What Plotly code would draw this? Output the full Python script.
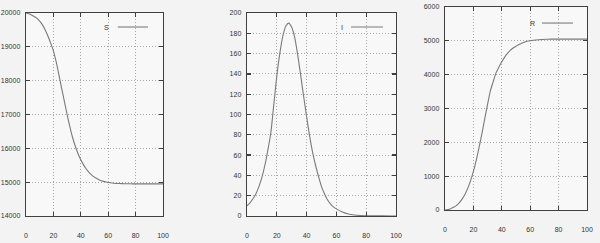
import plotly.graph_objects as go

# time grid (days)
t = [0, 2, 4, 6, 8, 10, 12, 14, 16, 18, 20, 22, 24, 26, 28, 30, 32, 34, 36, 38,
     40, 42, 44, 46, 48, 50, 52, 54, 56, 58, 60, 64, 68, 72, 76, 80, 90, 100]

S_vals = [20000, 19975, 19940, 19895, 19840, 19760, 19650, 19500, 19320, 19110,
          18880, 18560, 18180, 17780, 17390, 17000, 16640, 16320, 16060, 15840,
          15660, 15510, 15390, 15290, 15210, 15150, 15100, 15060, 15030, 15010,
          14990, 14970, 14960, 14955, 14952, 14950, 14950, 14950]

I_vals = [10, 13, 17, 22, 29, 38, 50, 65, 82, 110,
          138, 160, 177, 187, 190, 186, 176, 159, 139, 118,
          98, 79, 63, 50, 39, 29, 22, 16, 12, 9,
          7, 4, 2, 1, 0.5, 0.3, 0.1, 0]

R_vals = [0, 15, 40, 80, 130, 210, 320, 460, 640, 870,
          1140, 1470, 1850, 2260, 2700, 3130, 3530, 3800, 4060, 4230,
          4380, 4520, 4630, 4720, 4790, 4840, 4890, 4930, 4960, 4985,
          5000, 5025, 5040, 5048, 5050, 5050, 5050, 5050]

names = ["S", "I", "R"]
series = [S_vals, I_vals, R_vals]
y_ranges = [[14000, 20000], [0, 200], [0, 6000]]
y_dticks = [1000, 20, 1000]
x_ticks = [0, 20, 40, 60, 80, 100]

W, H = 600, 243
# panel boxes in pixels: (left, right, top, bottom)
boxes = [(26, 163, 13, 216), (247, 396, 13, 216), (445, 587, 7, 210)]
legend_pos = [(0.59, 0.67, 0.89, 0.931), (0.638, 0.698, 0.913, 0.931), (0.613, 0.683, 0.901, 0.921)]

fig = go.Figure()
line_col = "#7a7a7a"
frame_col = "#404040"
font = dict(family="Liberation Sans, Arial, sans-serif", size=7, color="#333333")

for k in range(3):
    l, r, tp, b = boxes[k]
    sfx = "" if k == 0 else str(k + 1)
    xa = "xaxis" + sfx
    ya = "yaxis" + sfx
    fig.add_trace(go.Scatter(x=t, y=series[k], mode="lines", name=names[k],
                             line=dict(color=line_col, width=1.1, shape="spline", smoothing=0.6),
                             xaxis="x" + sfx, yaxis="y" + sfx, showlegend=False,
                             hoverinfo="skip"))
    common = dict(showline=True, linecolor=frame_col, linewidth=1.3, mirror="allticks",
                  ticks="inside", ticklen=4, tickcolor=frame_col, tickwidth=1.3,
                  showgrid=True, gridcolor="#a8a8a8", griddash="1px,2px", gridwidth=1,
                  zeroline=False, tickfont=font, tickformat="d", automargin=False)
    fig.layout[xa] = dict(domain=[l / W, r / W], range=[0, 100], tickvals=x_ticks,
                          anchor="y" + sfx, ticklabelstandoff=12, **common)
    fig.layout[ya] = dict(domain=[(H - b) / H, (H - tp) / H], range=y_ranges[k],
                          dtick=y_dticks[k], anchor="x" + sfx, ticklabelstandoff=3, **common)
    tx, x0, x1, ly = legend_pos[k]
    fig.add_annotation(text=names[k], x=tx, y=ly, xref="x" + sfx + " domain",
                       yref="y" + sfx + " domain", showarrow=False, font=font,
                       xanchor="center", yanchor="middle")
    fig.add_shape(type="line", x0=x0, x1=x1, y0=ly, y1=ly, xref="x" + sfx + " domain",
                  yref="y" + sfx + " domain", line=dict(color=line_col, width=1.1))

fig.update_layout(width=W, height=H, margin=dict(l=0, r=0, t=0, b=0, autoexpand=False),
                  paper_bgcolor="#f3f3f3", plot_bgcolor="#f8f8f8",
                  showlegend=False, font=font, hovermode=False)
fig.write_html("out.html", config={"displayModeBar": False, "staticPlot": True},
               post_script="document.body.style.margin='0px';document.body.style.background='#f3f3f3';")
